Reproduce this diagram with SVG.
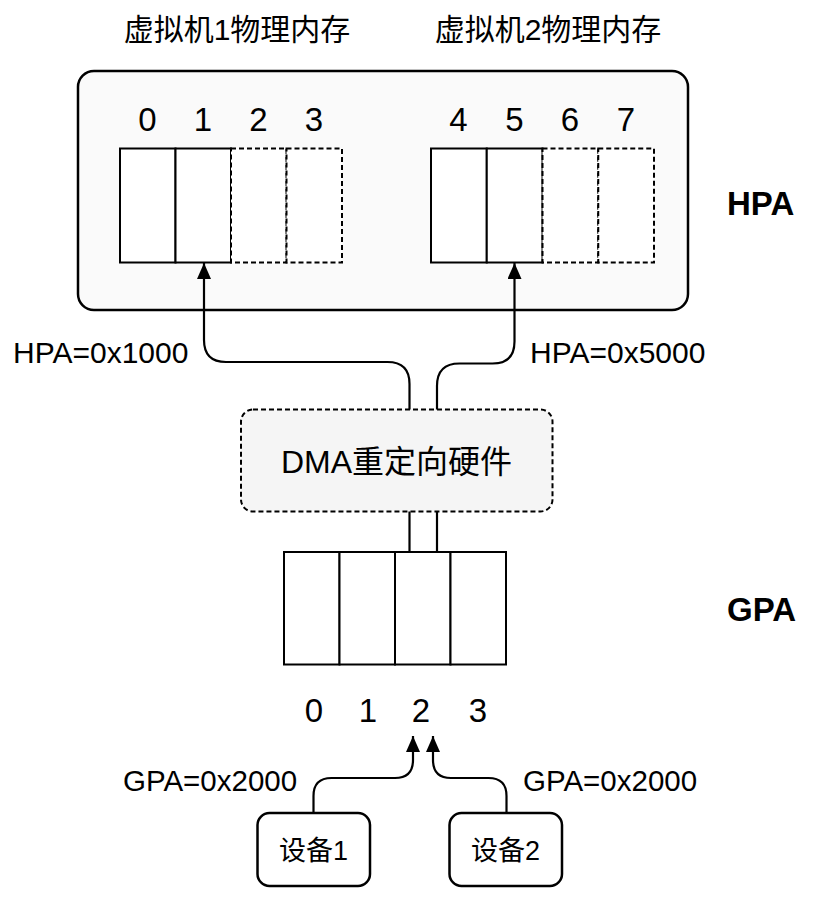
<svg xmlns="http://www.w3.org/2000/svg" width="818" height="899" viewBox="0 0 818 899">
<defs>
<style>
text{font-family:"Liberation Sans","Noto Sans CJK SC",sans-serif;fill:#000;}
.c{text-anchor:middle;}
.cell{fill:#fff;stroke:#000;stroke-width:2;}
.dash{fill:#fff;stroke:#000;stroke-width:2;stroke-dasharray:5 3;}
.conn{fill:none;stroke:#000;stroke-width:2.2;}
.num{font-size:33px;}
</style>
<marker id="arr" viewBox="0 0 16 14" refX="16" refY="7" markerWidth="16" markerHeight="14" markerUnits="userSpaceOnUse" orient="auto">
<path d="M0,0 L16,7 L0,14 z" fill="#000"/>
</marker>
</defs>
<rect width="818" height="899" fill="#fff"/>

<g id="titles">
<text class="c" x="237" y="40" font-size="30">虚拟机1物理内存</text>
<text class="c" x="548" y="40" font-size="30">虚拟机2物理内存</text>
</g>

<g id="hpa-box">
<rect x="78" y="71" width="610" height="239" rx="16" fill="#fafafa" stroke="#000" stroke-width="2.5"/>
</g>

<g id="vm1-memory">
<rect class="cell" x="120" y="148.5" width="55.5" height="114"/>
<rect class="cell" x="175.5" y="148.5" width="55.5" height="114"/>
<rect class="dash" x="231" y="148.5" width="55.5" height="114"/>
<rect class="dash" x="286.5" y="148.5" width="55.5" height="114"/>
<text class="c num" x="147.5" y="131">0</text>
<text class="c num" x="203" y="131">1</text>
<text class="c num" x="258.5" y="131">2</text>
<text class="c num" x="314" y="131">3</text>
</g>

<g id="vm2-memory">
<rect class="cell" x="431" y="148.5" width="55.75" height="114"/>
<rect class="cell" x="486.75" y="148.5" width="55.75" height="114"/>
<rect class="dash" x="542.5" y="148.5" width="55.75" height="114"/>
<rect class="dash" x="598.25" y="148.5" width="55.75" height="114"/>
<text class="c num" x="458.5" y="131">4</text>
<text class="c num" x="514.5" y="131">5</text>
<text class="c num" x="570" y="131">6</text>
<text class="c num" x="626" y="131">7</text>
</g>

<g id="hpa-label">
<text x="727" y="215" font-size="33" font-weight="bold">HPA</text>
</g>

<g id="dma">
<rect x="241" y="409.5" width="311.5" height="102" rx="12" fill="#f5f5f5" stroke="#000" stroke-width="2" stroke-dasharray="5 3"/>
<text class="c" x="396.5" y="472.5" font-size="32">DMA重定向硬件</text>
</g>

<g id="gpa-memory">
<rect class="cell" x="284" y="552" width="55.5" height="112.5"/>
<rect class="cell" x="339.5" y="552" width="55.5" height="112.5"/>
<rect class="cell" x="395" y="552" width="55.5" height="112.5"/>
<rect class="cell" x="450.5" y="552" width="55.5" height="112.5"/>
<text class="c num" x="314" y="722">0</text>
<text class="c num" x="368" y="722">1</text>
<text class="c num" x="421" y="722">2</text>
<text class="c num" x="478" y="722">3</text>
</g>

<g id="gpa-label">
<text x="727" y="621" font-size="33" font-weight="bold">GPA</text>
</g>

<g id="device1">
<rect x="257.5" y="813" width="112.5" height="73" rx="12" fill="#fff" stroke="#000" stroke-width="2.5"/>
<text class="c" x="313.5" y="860" font-size="27">设备1</text>
</g>

<g id="device2">
<rect x="449.5" y="813" width="112.5" height="73" rx="12" fill="#fff" stroke="#000" stroke-width="2.5"/>
<text class="c" x="505.5" y="860" font-size="27">设备2</text>
</g>

<g id="connectors">
<path class="conn" d="M409.5,409.5 V384 Q409.5,362 387.5,362 H226 Q204,362 204,340 V263" marker-end="url(#arr)"/>
<path class="conn" d="M437,409.5 V386 Q437,363.5 459.5,363.5 H492.5 Q514.5,363.5 514.5,341.5 V263" marker-end="url(#arr)"/>
<path class="conn" d="M409.5,511.5 V552"/>
<path class="conn" d="M437,511.5 V552"/>
<path class="conn" d="M313.5,813 V796 Q313.5,778 331.5,778 H395 Q413,778 413,760 V736" marker-end="url(#arr)"/>
<path class="conn" d="M506.5,813 V796 Q506.5,778 488.5,778 H451 Q433,778 433,760 V736" marker-end="url(#arr)"/>
<text x="13" y="363" font-size="30">HPA=0x1000</text>
<text x="530" y="363" font-size="30">HPA=0x5000</text>
<text x="123" y="791" font-size="29.5">GPA=0x2000</text>
<text x="523" y="791" font-size="29.5">GPA=0x2000</text>
</g>
</svg>
